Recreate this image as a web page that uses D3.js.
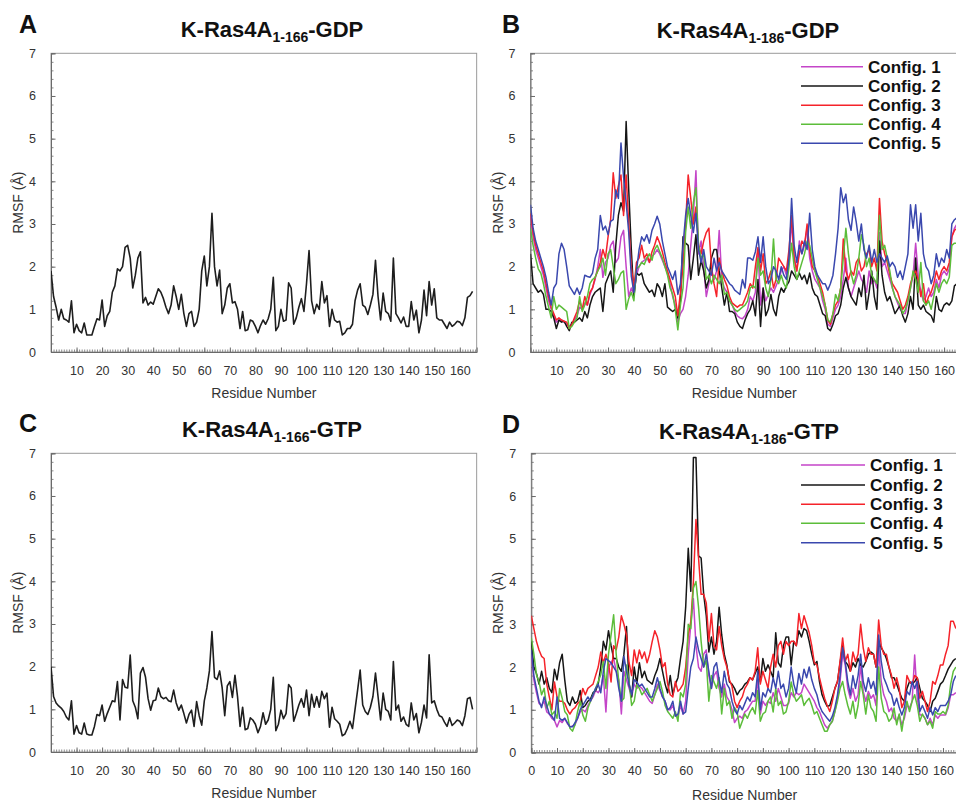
<!DOCTYPE html>
<html><head><meta charset="utf-8">
<script src="https://cdn.jsdelivr.net/npm/d3@7"></script>
<style>
body{margin:0;background:#fff}
svg{display:block}
text{font-family:"Liberation Sans",Arial,Helvetica,sans-serif}
</style>
</head><body>
<svg id="chart" width="956" height="802"></svg>
<script>
// ---------------- data ----------------
const residueIndex = d3.range(0, 166);
const xTicksABC = d3.range(10, 161, 10);
const xTicksD = d3.range(0, 161, 10);
const yTicks = d3.range(0, 8);
const configNames = ["Config. 1", "Config. 2", "Config. 3", "Config. 4", "Config. 5"];
const configColors = ["#c445c8", "#161616", "#f5232a", "#5cbd3a", "#3a48ae"];

const gdp166 = [1.9,1.3,1.05,0.75,1.0,0.78,0.75,0.7,1.2,0.45,
0.65,0.5,0.45,0.68,0.4,0.4,0.4,0.6,0.78,0.75,
1.22,0.6,0.85,0.95,1.4,1.55,1.95,1.9,2.0,2.45,
2.5,2.2,1.5,1.8,2.2,2.35,1.15,1.28,1.1,1.17,
1.12,1.3,1.48,1.4,1.25,1.05,0.9,1.1,1.55,1.3,
1.0,1.35,0.9,0.6,0.9,0.95,0.6,0.7,1.0,1.9,
2.25,1.55,2.0,3.25,2.0,1.55,1.92,0.9,1.1,1.5,
1.6,1.15,1.18,1.0,0.55,0.95,0.5,0.52,0.75,0.72,
0.6,0.45,0.62,0.75,0.65,0.78,1.0,1.75,0.5,0.6,
1.0,0.72,0.75,1.62,1.5,0.65,0.8,1.05,1.25,0.95,
1.6,2.38,1.2,0.9,1.12,1.0,1.65,1.15,1.32,0.6,
1.0,0.75,0.7,0.72,0.4,0.45,0.55,0.55,0.65,1.2,
1.45,1.6,1.1,1.05,0.88,1.1,1.35,2.15,1.3,0.75,
1.38,0.95,0.9,0.72,2.2,0.9,0.8,0.68,0.82,0.6,
0.6,1.18,0.75,0.98,0.45,0.75,1.45,0.85,1.65,1.1,
1.48,0.8,0.75,0.75,0.65,0.55,0.7,0.6,0.65,0.72,
0.7,0.62,0.8,1.28,1.32,1.42];

const gtp166 = [2.0,1.3,1.15,1.08,1.03,0.95,0.82,0.75,1.2,0.42,
0.62,0.45,0.42,0.68,0.42,0.4,0.4,0.6,0.88,0.85,
1.1,0.72,0.9,1.05,1.2,1.18,1.65,0.75,1.7,1.52,
1.5,2.27,1.2,1.05,0.78,1.85,1.98,1.75,1.25,0.98,
1.2,1.22,1.5,1.3,1.25,1.28,1.2,1.18,1.45,1.15,
0.98,1.1,0.9,0.68,0.88,0.98,0.6,1.18,0.85,0.63,
1.2,1.5,1.9,2.82,1.75,1.7,1.9,1.5,0.85,1.55,
1.65,1.28,1.8,1.3,0.6,1.05,0.52,0.55,0.8,0.75,
0.65,0.45,0.6,0.92,0.65,0.75,1.0,1.75,0.5,0.65,
0.98,0.78,0.9,1.58,1.5,0.72,0.9,1.1,1.25,1.05,
1.45,0.85,1.35,1.05,1.3,1.05,1.42,1.25,1.38,0.58,
1.05,0.78,0.72,0.65,0.38,0.42,0.55,0.72,0.55,1.0,
1.45,1.92,1.1,0.95,0.88,1.05,1.3,1.85,1.3,0.75,
1.38,1.0,0.95,0.75,2.12,0.98,1.1,0.72,0.82,0.65,
0.6,1.15,0.75,0.9,0.45,0.7,1.1,0.8,2.28,1.15,
1.2,1.0,0.85,0.82,0.7,0.6,0.8,0.62,0.68,0.75,
0.72,0.62,0.85,1.25,1.28,1.0];

// K-Ras4A 1-186 GDP, configs 1-5
const gdp186c1 = [3.2,2.7,2.4,2.2,2.0,1.8,1.5,1.2,1.0,0.85,
0.7,0.75,0.75,0.7,0.65,0.6,0.65,0.75,0.85,1.05,
1.0,1.15,1.1,1.35,1.5,1.7,2.0,2.4,1.75,2.1,
2.2,2.5,2.6,2.1,2.2,2.7,2.85,2.0,1.3,1.5,
1.35,1.8,2.0,2.1,2.15,2.2,2.1,2.25,2.3,2.4,
2.3,2.15,2.0,1.85,1.6,1.3,1.1,0.7,0.9,1.0,
1.3,1.8,2.5,3.2,4.25,2.3,2.6,2.0,1.3,1.6,
1.9,1.7,1.9,2.85,1.7,1.5,1.4,1.2,1.1,0.95,
0.85,0.8,0.78,0.85,1.0,1.3,1.2,1.4,2.4,1.1,
1.5,1.2,1.35,1.5,1.4,1.55,1.7,1.9,2.0,1.8,
2.2,3.05,2.2,1.9,2.6,2.3,2.5,2.9,2.2,1.9,
1.7,1.6,1.5,1.2,1.0,0.65,0.6,0.8,1.0,1.1,
1.3,1.7,2.2,1.5,1.3,1.5,1.7,1.9,1.7,1.6,
1.4,1.9,1.6,1.7,1.5,2.8,2.0,2.1,1.9,1.7,
1.5,1.3,1.15,1.0,0.9,0.9,1.2,1.5,1.8,2.55,
1.8,1.4,1.2,1.3,1.5,1.3,1.4,1.7,1.5,1.8,
1.9,1.8,1.95,2.7,2.9,3.0];
const gdp186c2 = [2.3,1.6,1.5,1.4,1.45,1.35,1.0,1.0,0.95,0.8,
0.55,0.75,0.7,0.72,0.6,0.5,0.7,0.7,0.75,0.8,
0.72,0.95,0.8,1.1,1.3,1.4,1.45,1.5,0.95,1.6,
1.75,1.9,1.4,2.5,3.2,3.5,3.3,5.4,3.8,2.4,
1.3,1.85,1.8,1.85,1.6,1.5,1.4,1.45,1.3,1.6,
1.5,1.3,1.6,1.05,1.0,0.95,1.0,0.8,1.2,2.7,
2.55,2.5,1.7,2.2,2.75,1.8,2.15,1.9,1.5,1.7,
2.2,2.4,2.4,1.9,1.5,1.1,1.4,0.95,0.95,0.9,
0.7,0.6,0.55,0.75,0.9,1.0,1.2,0.85,1.7,0.6,
1.5,0.85,1.0,1.35,1.0,0.85,1.3,1.5,1.4,1.55,
1.65,1.9,1.8,1.7,1.85,1.7,1.8,1.6,1.85,1.5,
1.35,1.3,1.1,0.9,0.85,0.55,0.5,0.65,0.85,0.9,
1.1,1.5,1.75,1.5,1.3,1.2,1.1,1.5,1.3,1.8,
1.0,1.4,1.9,1.3,1.0,2.6,1.8,1.4,1.2,1.3,
1.1,0.9,1.0,1.1,0.85,0.7,0.9,1.3,1.0,2.2,
1.1,1.0,1.1,0.95,0.9,0.85,0.7,1.3,1.0,0.95,
1.1,1.15,1.1,1.2,1.55,1.6];
const gdp186c3 = [3.25,2.8,2.5,2.3,2.1,1.9,1.6,1.3,1.05,0.9,
0.75,0.8,0.75,0.72,0.7,0.55,0.65,0.8,0.95,1.2,
1.0,1.3,1.1,1.4,1.5,1.75,1.9,2.1,2.4,2.2,
2.7,3.1,4.2,3.6,3.9,4.15,3.2,4.15,3.0,2.0,
1.5,2.1,2.2,2.5,2.2,2.3,2.1,2.35,2.5,2.7,
2.55,2.35,2.1,1.9,1.7,1.5,1.3,0.85,1.4,2.0,
3.0,4.15,3.6,3.0,3.4,2.5,2.3,2.6,2.8,2.9,
2.0,1.6,1.3,2.2,1.9,1.7,1.55,1.3,1.15,1.1,
1.05,1.1,1.1,1.25,1.4,1.6,1.5,2.0,2.45,1.9,
2.3,1.6,1.7,1.9,1.5,1.7,2.2,2.1,2.0,1.9,
2.4,3.2,2.2,1.9,2.3,2.6,2.5,3.0,2.4,2.0,
1.9,1.8,1.6,1.4,1.1,0.75,0.65,0.9,1.1,1.2,
1.5,2.65,1.9,1.7,1.9,1.8,2.1,2.2,1.9,2.0,
2.3,2.4,2.0,2.2,1.9,3.6,2.6,2.3,2.1,1.8,
1.6,1.5,1.4,1.2,1.0,1.1,1.3,1.6,1.8,1.9,
1.7,1.3,1.6,1.1,1.3,1.4,1.6,1.9,1.7,1.9,
2.0,1.9,2.1,2.7,2.85,2.9];
const gdp186c4 = [2.9,2.5,2.2,1.95,1.85,1.6,1.3,1.05,0.8,1.3,
1.0,1.1,1.05,1.0,0.95,0.55,0.6,0.7,0.8,1.3,
0.95,1.1,1.3,1.6,1.7,1.75,1.9,2.0,2.2,1.8,
2.3,2.4,2.0,1.6,1.7,1.85,1.9,1.0,1.25,1.4,
1.2,1.95,2.0,2.1,2.05,2.2,2.3,2.15,2.4,2.5,
2.35,2.2,2.0,1.8,1.5,1.35,1.0,0.52,1.1,1.5,
2.8,3.4,2.9,3.5,3.85,2.5,2.2,2.3,1.7,1.8,
1.6,1.8,1.7,1.6,1.8,1.35,1.4,1.2,1.1,1.0,
0.95,1.0,1.05,1.1,1.2,1.5,1.55,1.5,2.2,1.8,
1.9,1.5,1.3,1.7,2.65,1.7,1.6,1.8,1.6,1.5,
2.0,2.55,2.0,1.7,1.9,2.1,2.3,2.6,2.5,2.2,
1.9,1.7,1.5,1.3,1.1,0.75,0.7,0.9,1.35,1.2,
1.5,2.2,2.9,2.3,1.85,1.6,1.8,2.2,2.75,2.5,
2.0,2.2,1.8,1.7,1.6,3.2,2.4,2.5,2.2,1.9,
1.5,1.3,1.2,1.1,0.9,1.0,1.2,1.5,1.9,1.7,
1.4,2.1,1.2,1.1,1.2,1.0,1.3,1.6,1.4,1.6,
1.7,1.6,1.75,2.5,2.55,2.55];
const gdp186c5 = [3.45,2.9,2.6,2.4,2.2,2.0,1.75,1.4,1.1,1.5,
1.6,2.3,2.55,2.4,2.0,1.55,1.45,1.35,1.5,1.35,
1.5,1.8,1.77,1.75,1.85,2.2,2.4,3.2,2.86,2.95,
2.75,3.06,3.1,3.8,3.6,4.9,4.1,3.5,2.8,1.77,
1.4,1.9,2.4,2.7,2.6,2.75,2.55,2.85,3.0,3.18,
3.0,2.6,2.3,2.0,1.85,1.7,1.9,1.35,1.6,2.5,
3.2,3.6,3.2,2.8,3.25,2.4,2.1,2.4,2.0,1.9,
1.8,2.2,1.9,2.1,1.9,1.8,1.7,1.6,1.55,1.45,
1.4,1.35,1.7,1.5,2.2,2.2,2.15,2.35,2.7,2.1,
2.7,2.0,1.6,1.7,2.0,1.9,1.7,2.0,1.8,1.7,
2.2,3.6,2.5,2.1,2.5,2.3,2.6,2.4,3.25,2.4,
2.0,1.8,1.7,1.6,1.6,1.45,1.6,1.8,2.3,2.9,
3.85,3.5,3.7,3.1,2.85,3.4,3.05,2.6,3.0,2.4,
2.2,2.5,2.1,2.4,2.1,2.3,2.2,2.1,2.25,2.0,
2.1,2.0,1.75,1.9,1.7,2.0,2.3,3.45,2.9,3.45,
2.6,3.25,2.3,2.0,1.9,1.6,1.8,2.3,2.0,2.2,
2.1,2.4,2.2,3.0,3.1,3.15];

// K-Ras4A 1-186 GTP, configs 1-5
const gtp186c1 = [2.3,1.7,1.4,1.15,1.1,1.2,0.95,0.9,0.8,0.75,
0.6,0.75,0.7,0.8,0.68,0.6,0.62,0.65,0.8,0.95,
1.0,0.95,1.1,1.2,1.3,1.45,1.4,1.5,1.8,0.95,
2.0,2.1,2.2,1.9,1.7,0.9,1.9,1.7,1.5,1.3,
1.6,1.5,1.55,1.5,1.4,1.3,1.2,1.15,1.35,1.6,
1.45,1.3,1.2,1.0,1.0,1.1,0.9,0.85,1.1,0.9,
1.2,2.3,3.0,3.6,2.5,2.0,1.9,2.3,2.4,1.8,
1.5,1.8,1.9,1.5,1.3,1.6,1.3,1.2,1.0,0.7,
0.8,0.85,0.8,0.95,1.0,1.1,1.2,1.2,1.7,0.9,
1.2,1.1,1.2,1.15,1.4,1.2,1.5,1.3,1.1,1.1,
1.15,1.4,1.3,1.4,1.35,1.4,1.6,1.5,1.4,1.3,
1.2,1.05,0.96,0.8,0.65,0.57,0.65,0.73,0.96,1.27,
1.66,2.3,2.05,1.5,1.27,1.5,1.2,1.35,2.05,1.43,
1.2,1.43,1.27,1.35,1.1,2.45,1.66,1.35,1.2,0.96,
1.04,0.8,0.73,0.88,0.65,0.8,1.1,1.04,1.2,2.28,
1.27,0.88,0.88,0.8,0.65,0.8,0.65,0.88,0.8,0.88,
0.88,0.88,1.04,1.35,1.35,1.4];
const gtp186c2 = [2.6,2.0,1.85,1.6,1.9,1.6,1.75,1.5,1.4,1.95,
1.7,2.1,2.3,1.7,1.2,1.1,1.3,1.15,1.2,1.45,
1.05,1.1,1.2,1.25,1.4,1.45,1.6,2.0,2.6,2.4,
2.85,2.5,2.2,2.2,2.0,1.9,2.3,2.95,1.6,1.3,
2.0,1.6,2.1,1.75,1.9,1.7,1.65,1.6,1.8,1.95,
2.2,1.9,1.6,1.4,1.8,1.35,1.6,1.75,2.2,2.6,
3.4,4.78,3.77,6.9,6.9,4.6,4.55,3.7,3.2,2.35,
2.7,2.3,2.6,3.4,2.75,2.3,2.05,1.65,1.6,1.5,
1.35,1.45,1.5,1.6,1.65,1.75,1.7,1.85,2.0,1.65,
2.2,1.9,2.05,1.9,1.75,2.8,2.1,2.0,2.5,2.7,
2.7,2.05,2.6,2.5,2.85,2.7,2.9,2.85,2.6,2.3,
2.05,2.13,1.66,1.35,1.2,1.08,1.1,1.3,1.5,1.66,
2.1,2.5,2.13,2.05,1.9,2.1,2.0,2.2,2.05,2.0,
2.13,2.3,2.35,2.3,2.0,2.6,2.45,2.35,2.2,2.0,
1.75,1.75,1.6,1.43,1.27,1.2,1.5,1.66,1.6,1.66,
1.75,1.5,1.27,1.2,1.1,0.96,1.2,1.27,1.43,1.6,
1.66,1.8,1.95,2.05,2.15,2.2];
const gtp186c3 = [3.2,2.9,2.6,2.4,2.25,2.2,1.6,1.3,1.0,1.65,
1.3,1.2,1.2,1.15,1.0,0.9,1.0,1.05,1.15,1.2,
1.5,1.35,1.5,1.55,1.6,1.8,2.0,2.35,2.1,2.3,
2.1,1.65,2.5,2.4,2.7,3.2,3.0,2.75,2.1,1.8,
2.4,2.1,2.4,2.2,2.35,2.1,2.3,2.6,2.85,2.7,
2.4,2.0,2.1,1.6,1.35,1.3,1.66,1.43,1.5,1.6,
2.0,2.75,3.07,4.0,5.45,4.55,3.7,3.7,3.5,2.6,
3.25,2.5,2.4,2.95,2.5,2.2,2.0,1.7,1.55,1.2,
1.05,1.2,1.3,1.5,1.6,1.75,1.7,1.9,2.45,1.6,
1.9,1.7,1.5,2.0,2.3,2.0,2.5,2.6,2.3,2.6,
2.5,2.6,2.6,2.5,3.25,2.9,3.2,3.0,2.8,2.5,
2.1,2.05,1.75,1.5,1.27,1.1,0.96,1.2,1.5,1.66,
2.13,2.68,2.13,2.3,1.9,2.35,2.13,2.3,3.0,2.45,
2.13,2.45,2.3,2.3,2.0,3.1,2.5,2.3,2.3,2.0,
1.8,1.5,1.75,1.5,1.05,1.2,1.8,1.66,1.6,1.8,
1.75,1.27,1.43,1.2,0.96,1.2,1.66,1.6,1.8,2.05,
2.05,2.3,2.5,3.07,3.07,2.9];
const gtp186c4 = [2.68,2.3,1.82,1.66,1.35,1.5,1.04,1.2,0.88,0.96,
0.8,1.5,1.27,0.96,0.88,0.57,0.5,0.65,0.96,1.2,
0.88,0.73,1.04,1.2,1.35,1.5,1.66,1.82,2.13,1.5,
2.3,2.75,3.22,2.3,1.66,1.2,1.27,2.05,1.66,1.1,
1.2,1.58,1.5,1.35,1.43,1.5,1.35,1.2,1.35,1.5,
1.66,1.43,1.1,0.96,0.88,0.8,0.95,0.73,1.4,1.3,
1.6,3.0,2.9,3.85,4.0,3.4,2.6,2.0,2.15,1.2,
1.8,1.65,1.5,1.75,0.9,1.5,1.1,1.2,0.8,1.05,
0.95,0.57,0.73,0.9,0.8,0.95,1.05,0.9,1.45,0.73,
0.9,0.95,1.2,1.3,0.95,1.5,1.1,1.2,0.9,0.95,
1.2,1.65,1.35,1.2,1.27,1.35,1.1,1.2,1.27,1.1,
0.9,0.96,0.8,0.65,0.5,0.5,0.65,0.73,0.96,1.2,
1.5,1.66,1.35,1.1,0.9,1.2,0.8,1.1,1.66,1.35,
0.9,1.35,1.05,0.96,0.73,2.0,1.27,0.96,0.9,0.73,
0.8,1.04,0.65,0.9,0.5,0.9,1.2,0.96,1.2,1.35,
1.1,0.73,0.9,0.8,0.65,0.73,0.57,0.96,0.9,0.9,
0.96,0.9,1.1,1.6,1.9,2.0];
const gtp186c5 = [2.4,1.8,1.5,1.2,1.05,1.3,1.1,0.9,0.85,0.75,
1.3,0.8,0.75,0.8,0.7,0.6,0.6,0.7,0.8,1.0,
1.1,1.2,1.3,1.2,1.35,1.5,1.6,1.4,1.9,2.2,
2.15,2.1,2.0,1.9,1.5,1.2,2.25,1.9,1.6,1.35,
1.7,1.65,1.55,1.6,1.5,1.4,1.3,1.3,1.5,1.75,
1.5,1.3,1.2,1.0,1.05,1.2,0.85,0.9,1.2,0.9,
0.95,1.5,2.0,2.2,2.7,2.4,2.2,2.0,2.3,1.9,
1.5,2.0,2.1,1.7,1.4,1.9,1.6,1.5,1.2,1.0,
0.9,1.1,1.0,1.15,1.3,1.2,1.4,1.3,1.9,1.0,
1.4,1.3,1.5,1.4,1.75,1.5,1.9,1.5,1.6,1.3,
1.5,2.0,1.6,1.4,1.85,1.6,1.95,1.75,2.0,1.7,
1.5,1.35,1.1,0.96,0.88,0.8,0.73,0.85,1.05,1.35,
1.8,2.45,2.13,1.66,1.35,1.8,1.5,1.8,2.3,1.66,
1.43,1.75,1.5,1.66,1.35,2.75,2.13,1.75,1.6,1.43,
1.35,1.1,1.27,1.05,0.88,1.05,1.43,1.35,1.66,1.5,
1.66,0.96,1.1,0.96,0.8,1.05,0.88,1.05,0.96,1.1,
1.1,1.1,1.2,1.35,1.66,1.8];

// ---------------- drawing ----------------
const svg = d3.select("#chart");

const panels = [
  {letter:"A", lx:19, ly:33, sub:"1-166", suffix:"-GDP", tx:272, ty:37,
   left:51, top:53.3, bottom:352, step:2.555, xTicks:xTicksABC,
   yLabX:23, series:[gdp166], colors:["#1e1e1e"], legend:null, xlabY:398},
  {letter:"B", lx:502, ly:33, sub:"1-186", suffix:"-GDP", tx:748, ty:38,
   left:530.5, top:53.3, bottom:352, step:2.585, xTicks:xTicksABC,
   yLabX:503, series:[gdp186c1,gdp186c2,gdp186c3,gdp186c4,gdp186c5], colors:configColors,
   legend:{x1:801, x2:863, tx:868, ys:[66.7,86,105.3,124.3,143.3]}, xlabY:398},
  {letter:"C", lx:19, ly:432, sub:"1-166", suffix:"-GTP", tx:272, ty:437,
   left:51, top:453.3, bottom:752, step:2.555, xTicks:xTicksABC,
   yLabX:23, series:[gtp166], colors:["#1e1e1e"], legend:null, xlabY:798},
  {letter:"D", lx:502, ly:433, sub:"1-186", suffix:"-GTP", tx:749, ty:439,
   left:531.3, top:453.3, bottom:752.5, step:2.573, xTicks:xTicksD,
   yLabX:503, series:[gtp186c1,gtp186c2,gtp186c3,gtp186c4,gtp186c5], colors:configColors,
   legend:{x1:801, x2:865, tx:870, ys:[465,485,504.3,523.3,542.7]}, xlabY:800}
];

panels.forEach((p, pi) => {
  const right = p.left + 166.6 * p.step;
  const x = d3.scaleLinear().domain([0, 166.6]).range([p.left, right]);
  const y = d3.scaleLinear().domain([0, 7]).range([p.bottom, p.top]);
  const g = svg.append("g");

  // panel letter
  g.append("text").attr("x", p.lx).attr("y", p.ly)
    .attr("font-size", 25).attr("font-weight", "bold").attr("fill", "#111").text(p.letter);

  // title
  const t = g.append("text").attr("x", p.tx).attr("y", p.ty)
    .attr("text-anchor", "middle").attr("font-weight", "bold").attr("font-size", 22).attr("fill", "#111");
  t.append("tspan").text("K-Ras4A");
  t.append("tspan").attr("font-size", 14).attr("dy", 5).text(p.sub);
  t.append("tspan").attr("dy", -5).text(p.suffix);

  // clip
  const cid = "clip" + pi;
  svg.append("clipPath").attr("id", cid).append("rect")
    .attr("x", p.left).attr("y", p.top).attr("width", right - p.left).attr("height", p.bottom - p.top);

  // frame
  g.append("rect").attr("x", p.left).attr("y", p.top)
    .attr("width", right - p.left).attr("height", p.bottom - p.top)
    .attr("fill", "none").attr("stroke", "#9a9a9a").attr("stroke-width", 1);

  // minor ticks
  const minorX = d3.axisBottom(x).tickValues(d3.range(0, 167, 1)).tickSize(-2.5).tickFormat("");
  const minorY = d3.axisLeft(y).tickValues(d3.range(0, 7.01, 0.2)).tickSize(-2.5).tickFormat("");
  const gmx = g.append("g").attr("transform", `translate(0,${p.bottom})`).call(minorX);
  const gmy = g.append("g").attr("transform", `translate(${p.left},0)`).call(minorY);
  [gmx, gmy].forEach(a => { a.select(".domain").remove(); a.selectAll("line").attr("stroke", "#8a8a8a"); });

  // major axes
  const ax = d3.axisBottom(x).tickValues(p.xTicks).tickSize(-4.5).tickPadding(14).tickFormat(d3.format("d"));
  const ay = d3.axisLeft(y).tickValues(yTicks).tickSize(-4.5).tickPadding(15).tickFormat(d3.format("d"));
  const gx = g.append("g").attr("transform", `translate(0,${p.bottom})`).call(ax);
  const gy = g.append("g").attr("transform", `translate(${p.left},0)`).call(ay);
  [gx, gy].forEach(a => {
    a.select(".domain").attr("stroke", "#6a6a6a");
    a.selectAll("line").attr("stroke", "#6a6a6a");
    a.selectAll("text").attr("font-size", 12.5).attr("fill", "#333")
      .attr("font-family", "'Liberation Sans', Arial, sans-serif");
  });

  // lines
  const line = d3.line().x((d, i) => x(residueIndex[i])).y(d => y(d));
  const lg = g.append("g").attr("clip-path", `url(#${cid})`);
  p.series.forEach((s, si) => {
    lg.append("path").datum(s).attr("d", line)
      .attr("fill", "none").attr("stroke", p.colors[si])
      .attr("stroke-width", p.series.length > 1 ? 1.5 : 1.6)
      .attr("stroke-linejoin", "round");
  });

  // axis labels
  g.append("text").attr("transform", `translate(${p.yLabX},${(p.top + p.bottom) / 2}) rotate(-90)`)
    .attr("text-anchor", "middle").attr("font-size", 14).attr("fill", "#333").text("RMSF (Å)");
  g.append("text").attr("x", (p.left + Math.min(right, 956)) / 2 + (p.legend ? 1 : 0)).attr("y", p.xlabY)
    .attr("text-anchor", "middle").attr("font-size", 14).attr("fill", "#333").text("Residue Number");

  // legend
  if (p.legend) {
    configNames.forEach((n, i) => {
      g.append("line").attr("x1", p.legend.x1).attr("x2", p.legend.x2)
        .attr("y1", p.legend.ys[i]).attr("y2", p.legend.ys[i])
        .attr("stroke", configColors[i]).attr("stroke-width", 1.6);
      g.append("text").attr("x", p.legend.tx).attr("y", p.legend.ys[i]).attr("dy", "0.36em")
        .attr("font-size", 17).attr("font-weight", "bold").attr("fill", "#111").text(n);
    });
  }
});
</script>
</body></html>
